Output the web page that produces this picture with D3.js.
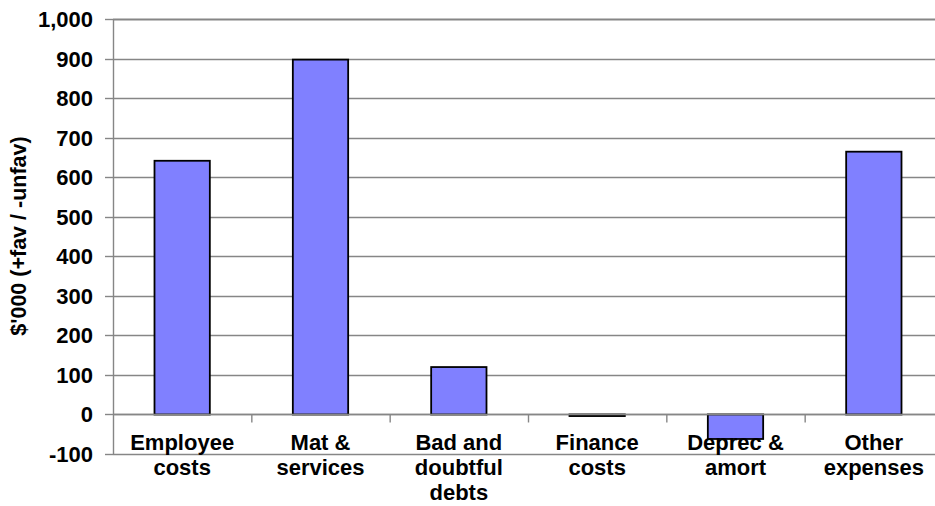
<!DOCTYPE html>
<html>
<head>
<meta charset="utf-8">
<script src="https://cdn.jsdelivr.net/npm/d3@7"></script>
<style>
  html, body { margin: 0; padding: 0; background: #ffffff; }
  svg { display: block; }
  text { font-family: "Liberation Sans", Arial, sans-serif; font-weight: bold; fill: #000; }
</style>
</head>
<body>
<svg id="chart" width="935" height="506"></svg>
<script>
// ---- data ----
const categories = [
  ["Employee", "costs"],
  ["Mat &", "services"],
  ["Bad and", "doubtful", "debts"],
  ["Finance", "costs"],
  ["Deprec &", "amort"],
  ["Other", "expenses"]
];
const values = [642, 898, 120, -4, -62, 665];
const yTicks = [-100, 0, 100, 200, 300, 400, 500, 600, 700, 800, 900, 1000];
const yLabel = "$'000 (+fav / -unfav)";

// ---- layout ----
const W = 935, H = 506;
const mLeft = 113, mRight = 943, mTop = 19.3, mBottom = 454;
const svg = d3.select("#chart");

const keys = categories.map((c, i) => i);
const x = d3.scaleBand().domain(keys).range([mLeft, mRight]).padding(0);
const y = d3.scaleLinear().domain([-100, 1000]).range([mBottom, mTop]);

// gridlines
svg.append("g").selectAll("line").data(yTicks).join("line")
  .attr("x1", mLeft).attr("x2", W)
  .attr("y1", d => Math.round(y(d)) + 0.5).attr("y2", d => Math.round(y(d)) + 0.5)
  .attr("stroke", "#868686")
  .attr("stroke-width", d => d === 1000 ? 2 : 1.4);

// y axis line and ticks
svg.append("line").attr("x1", mLeft + 0.5).attr("x2", mLeft + 0.5)
  .attr("y1", y(1000)).attr("y2", y(-100)).attr("stroke", "#868686").attr("stroke-width", 1.4);
svg.append("g").selectAll("line").data(yTicks).join("line")
  .attr("x1", mLeft - 8).attr("x2", mLeft)
  .attr("y1", d => Math.round(y(d)) + 0.5).attr("y2", d => Math.round(y(d)) + 0.5)
  .attr("stroke", "#868686").attr("stroke-width", 1.4);

// category boundary ticks on zero line
svg.append("g").selectAll("line").data(keys.slice(1)).join("line")
  .attr("x1", d => x(d) + 0.5).attr("x2", d => x(d) + 0.5)
  .attr("y1", y(0)).attr("y2", y(0) + 8)
  .attr("stroke", "#868686").attr("stroke-width", 1.4);

// bars
const bw = x.bandwidth() * 0.4;
svg.append("g").selectAll("rect").data(values).join("rect")
  .attr("x", (d, i) => x(i) + (x.bandwidth() - bw) / 2)
  .attr("width", bw)
  .attr("y", d => y(Math.max(0, d)))
  .attr("height", d => Math.abs(y(d) - y(0)))
  .attr("fill", "#8080FF")
  .attr("stroke", "#000")
  .attr("stroke-width", 1.8);

// zero line over bar bottoms
svg.append("line").attr("x1", mLeft).attr("x2", W)
  .attr("y1", Math.round(y(0)) + 0.5).attr("y2", Math.round(y(0)) + 0.5)
  .attr("stroke", "#868686").attr("stroke-width", 1.4);

// y tick labels
const fmt = d3.format(",");
svg.append("g").selectAll("text").data(yTicks).join("text")
  .attr("x", 93).attr("y", d => y(d))
  .attr("dy", "0.36em")
  .attr("text-anchor", "end")
  .style("font-size", "22px")
  .text(d => fmt(d).replace("\u2212", "-"));

// category labels
const lab = svg.append("g").selectAll("text").data(categories).join("text")
  .attr("text-anchor", "middle")
  .style("font-size", "22px")
  .attr("transform", (d, i) => `translate(${x(i) + x.bandwidth() / 2},0)`);
lab.selectAll("tspan").data(d => d).join("tspan")
  .attr("x", 0)
  .attr("y", (d, j) => 450 + j * 25)
  .text(d => d);

// y axis title
svg.append("text")
  .attr("transform", "translate(26,236) rotate(-90)")
  .attr("text-anchor", "middle")
  .style("font-size", "21.5px")
  .text(yLabel);
</script>
</body>
</html>
